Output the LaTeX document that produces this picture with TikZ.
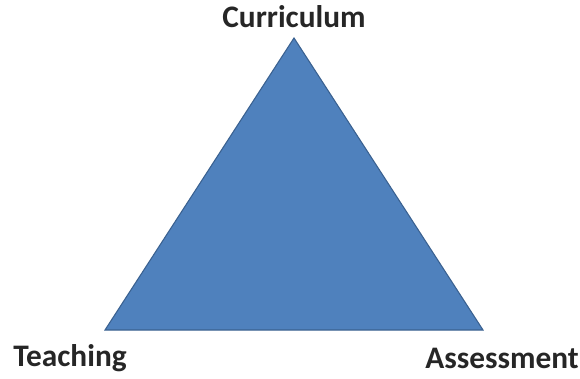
\documentclass[tikz,border=0pt]{standalone}
\usepackage{fontspec}
\setmainfont{Carlito}
\usepackage{xcolor}
\usetikzlibrary{positioning}

\definecolor{triblue}{HTML}{4F81BD}
\definecolor{triedge}{HTML}{3A6190}

\begin{document}
\begin{tikzpicture}[x=0.75pt, y=-0.75pt,
    corner/.style={font=\fontsize{23.5}{26}\selectfont\bfseries, text=black!85, inner sep=0pt}]
    \useasboundingbox (0,0) rectangle (580,378);
    % Corners of the triangle
    \coordinate (top) at (294,38);
    \coordinate (left) at (105,330);
    \coordinate (right) at (483,330);
    \fill[triblue, draw=triedge, line width=0.8pt] (top) -- (left) -- (right) -- cycle;

    % Labels
    \node[corner] (curriculum) at (294,17) {Curriculum};
    \node[corner] (teaching) at (70,358) {Teaching};
    \node[corner] (assessment) at (502,358) {Assessment};
\end{tikzpicture}
\end{document}
